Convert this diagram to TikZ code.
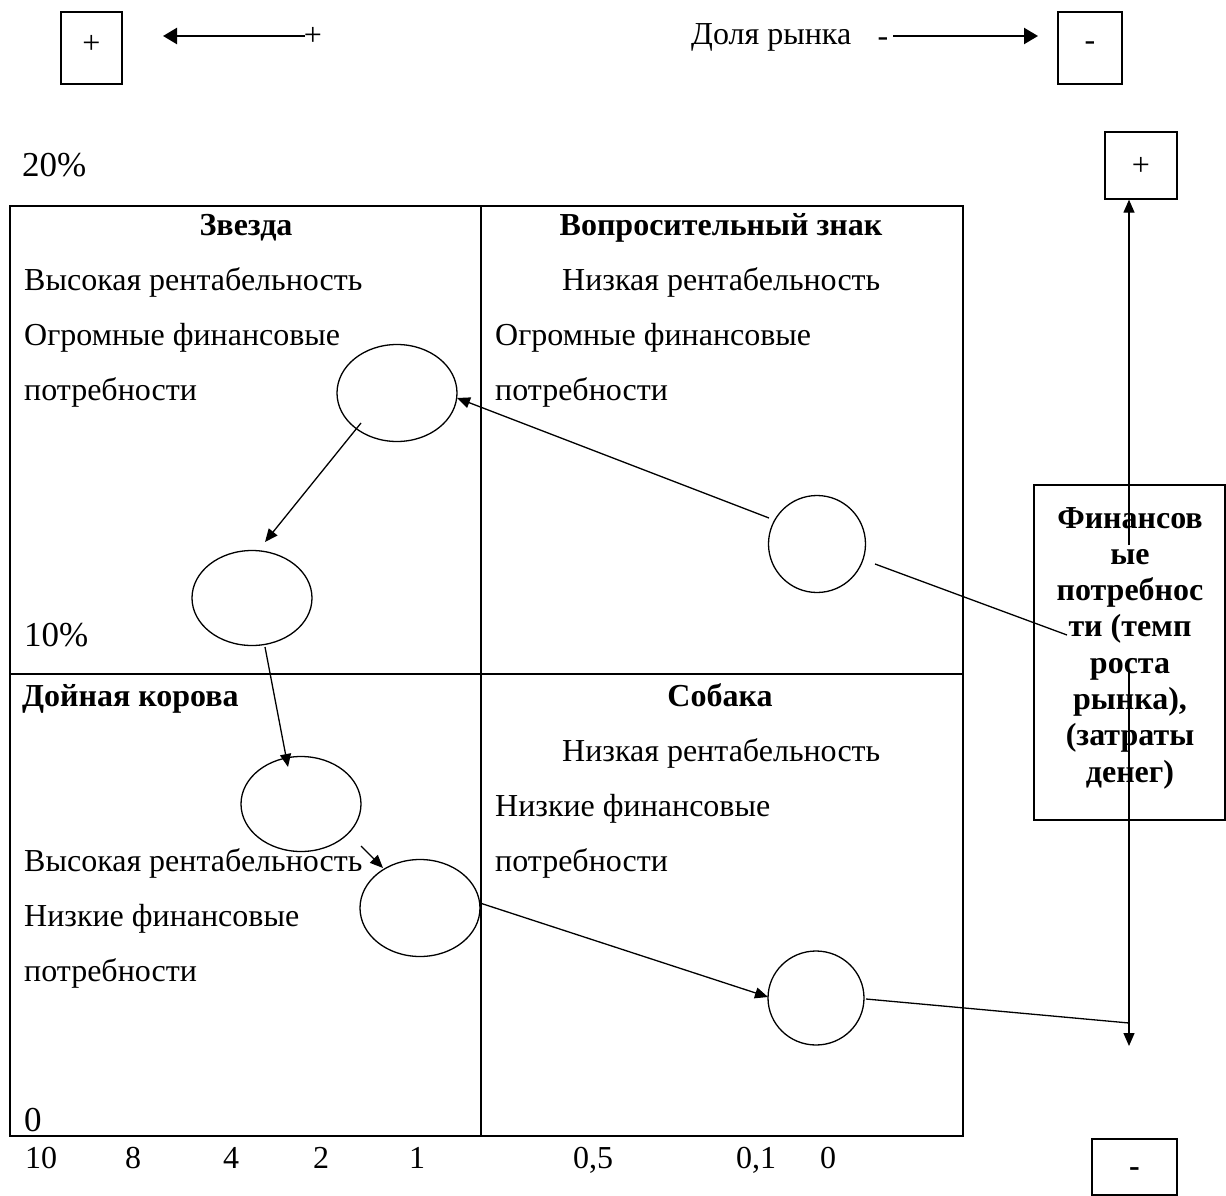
\documentclass[tikz,border=0pt]{standalone}
\usepackage{fontspec}
\setmainfont{Liberation Serif}
\usetikzlibrary{arrows.meta,shapes.geometric}
\begin{document}
\begin{tikzpicture}[x=1pt,y=-1pt,
  font=\fontsize{32}{36}\selectfont,
  txt/.style={inner sep=0pt, anchor=base west},
  bigtxt/.style={inner sep=0pt, anchor=base west, font=\fontsize{35}{40}\selectfont},
  ctxt/.style={inner sep=0pt, anchor=base},
  btxt/.style={inner sep=0pt, anchor=base, font=\fontsize{32}{36}\selectfont\bfseries},
  sbox/.style={draw, line width=1.3pt, inner sep=0pt},
  oval/.style={draw, ellipse, line width=1.3pt, inner sep=0pt},
  arr/.style={line width=1.3pt, -{Triangle[length=13pt,width=11pt]}},
  thickarr/.style={line width=2.4pt, -{Triangle[length=14pt,width=16pt]}},
  plain/.style={line width=1.3pt},
  grid/.style={line width=2pt}]
\useasboundingbox (0,0) rectangle (1226,1196);

% top row
\node[sbox, minimum width=61pt, minimum height=72pt] (bplus) at (91.5,48) {};
\node[inner sep=0pt] (tplus) at (91.5,44) {+};
\node[sbox, minimum width=64pt, minimum height=72pt] (bminus) at (1090,48) {};
\node[inner sep=0pt] (tminus) at (1090,46) {-};
\node[inner sep=0pt] (plusend) at (313,36) {+};
\coordinate (ta1s) at (305,36);
\coordinate (ta1e) at (163,36);
\draw[thickarr] (ta1s) -- (ta1e);
\node[txt] (share) at (691,45) {Доля рынка};
\node[inner sep=0pt] (minusstart) at (883,42) {-};
\coordinate (ta2s) at (893,36);
\coordinate (ta2e) at (1038,36);
\draw[thickarr] (ta2s) -- (ta2e);

% right column
\node[sbox, minimum width=72pt, minimum height=67pt] (rplus) at (1141,165.5) {};
\node[inner sep=0pt] (rplust) at (1141,166) {+};
\node[sbox, minimum width=85pt, minimum height=56pt] (rminus) at (1134.5,1167) {};
\node[inner sep=0pt] (rminust) at (1134.5,1172) {\bfseries -};
\node[sbox, minimum width=191pt, minimum height=335pt] (fbox) at (1129.5,652.5) {};
\coordinate (v1s) at (1129,545);
\coordinate (v2s) at (1129,670);
\coordinate (v2e) at (1129,1046);
\coordinate (lend) at (1067,635);
\coordinate (ljoin) at (1129,1023);
\draw[arr] (v1s) -- (rplus.south -| v1s);
\draw[arr] (v2s) -- (v2e);
\foreach \t [count=\i from 0] in {{Финансов},{ые},{потребнос},{ти (темп},{роста},{рынка),},{(затраты},{денег)}}
  \node[btxt] (f\i) at (1130,528+36.3*\i) {\t};

% labels
\node[bigtxt] (p20) at (22,176) {20\%};
\node[bigtxt] (p10) at (24,646) {10\%};
\node[bigtxt] (p0) at (24,1131) {0};

% grid
\draw[grid] (10,206) rectangle (963,1136);
\draw[grid] (481,206) -- (481,1136);
\draw[grid] (10,674) -- (963,674);

% quadrant texts
\node[btxt] (star) at (246,235) {Звезда};
\node[txt] (s1) at (24,290) {Высокая рентабельность};
\node[txt] (s2) at (24,345) {Огромные финансовые};
\node[txt] (s3) at (24,400) {потребности};
\node[btxt] (qm) at (721,235) {Вопросительный знак};
\node[txt] (q1) at (562,290) {Низкая рентабельность};
\node[txt] (q2) at (495,345) {Огромные финансовые};
\node[txt] (q3) at (495,400) {потребности};
\node[btxt, anchor=base west] (cow) at (22,706) {Дойная корова};
\node[txt] (c1) at (24,871) {Высокая рентабельность};
\node[txt] (c2) at (24,926) {Низкие финансовые};
\node[txt] (c3) at (24,981) {потребности};
\node[btxt] (dog) at (720,706) {Собака};
\node[txt] (d1) at (562,761) {Низкая рентабельность};
\node[txt] (d2) at (495,816) {Низкие финансовые};
\node[txt] (d3) at (495,871) {потребности};

% axis numbers
\foreach \x/\t [count=\i] in {41/10,133/8,231/4,321/2,417/1,593/{0,5},756/{0,1},828/0}
  \node[ctxt] (n\i) at (\x,1168) {\t};

% ellipses
\node[oval, minimum width=120pt, minimum height=97pt] (e1) at (397,393) {};
\node[oval, minimum width=120pt, minimum height=95pt] (e2) at (252,598) {};
\node[oval, minimum width=97pt, minimum height=97pt] (e3) at (817,544) {};
\node[oval, minimum width=120pt, minimum height=95pt] (e4) at (301,804) {};
\node[oval, minimum width=120pt, minimum height=97pt] (e5) at (420,908) {};
\node[oval, minimum width=96pt, minimum height=94pt] (e6) at (816,998) {};

% connectors
\coordinate (a1s) at (769,518);
\coordinate (a1e) at (457,398);
\coordinate (a2s) at (361,423);
\coordinate (a2e) at (265,542);
\coordinate (a3s) at (265,647);
\coordinate (a3e) at (288,767);
\coordinate (a4s) at (361,846);
\coordinate (a4e) at (383,868);
\coordinate (a5s) at (480,903);
\coordinate (a5e) at (768,997);
\coordinate (l1s) at (875,564);
\coordinate (l2s) at (866,999);
\draw[arr] (a1s) -- (a1e);
\draw[arr] (a2s) -- (a2e);
\draw[arr] (a3s) -- (a3e);
\draw[arr] (a4s) -- (a4e);
\draw[arr] (a5s) -- (a5e);
\draw[plain] (l1s) -- (lend);
\draw[plain] (l2s) -- (ljoin);
\end{tikzpicture}
\end{document}
